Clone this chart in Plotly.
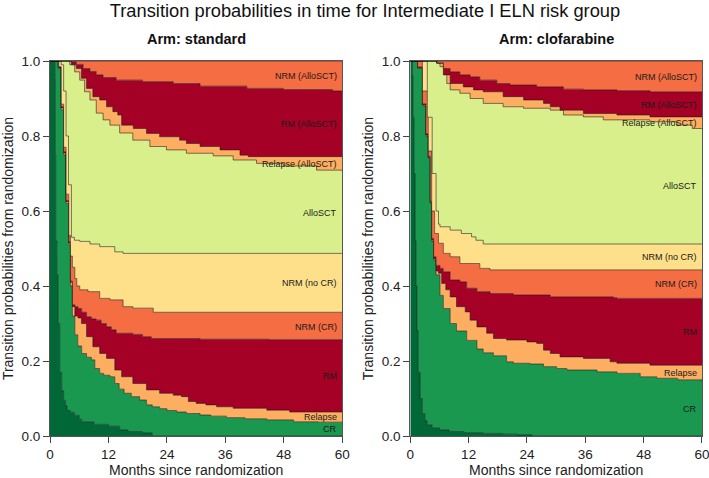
import plotly.graph_objects as go

# ---------------- data (cumulative upper boundary of each state) ----------------
states = ["Induction", "CR", "Relapse", "RM", "NRM (CR)", "NRM (no CR)",
          "AlloSCT", "Relapse (AlloSCT)", "RM (AlloSCT)", "NRM (AlloSCT)"]
colors = ["#006837", "#1a9850", "#fdae61", "#a50026", "#f46d43", "#fee08b",
          "#d9ef8b", "#fdae61", "#a50026", "#f46d43"]
x_ticks = [0, 12, 24, 36, 48, 60]
y_ticks = [0.0, 0.2, 0.4, 0.6, 0.8, 1.0]

# ---- Arm: standard ----
std_t_ind = [0, 0.9, 1.0, 1.1, 1.17, 1.4, 1.7, 2.0, 2.4, 2.8, 3.2, 3.5, 4.2, 5.0, 6.0, 6.5, 9.0, 12, 14.3, 16, 19, 21, 60]
std_p_ind = [1.0, 1.0, 0.95, 0.75, 0.52, 0.43, 0.3, 0.17, 0.12, 0.095, 0.08, 0.068, 0.063, 0.055, 0.045, 0.038, 0.031, 0.026, 0.016, 0.012, 0.008, 0.0, 0.0]

std_t_cr = [0, 1.3, 1.7, 2.3, 2.8, 3.3, 3.85, 4.2, 4.6, 5.1, 5.7, 6.5, 7.5, 8.5, 9.2, 10.2, 11.0, 12.3, 13.3, 14.2, 15.2, 16.7, 18.4, 19.8, 21, 22.5, 24, 26, 28, 30.8, 33, 36.2, 40, 44.5, 50, 55, 60]
std_p_cr = [1.0, 1.0, 0.98, 0.87, 0.75, 0.62, 0.51, 0.40, 0.32, 0.27, 0.24, 0.22, 0.21, 0.203, 0.18, 0.167, 0.162, 0.158, 0.14, 0.125, 0.114, 0.105, 0.096, 0.083, 0.078, 0.073, 0.068, 0.064, 0.06, 0.056, 0.053, 0.049, 0.046, 0.043, 0.038, 0.037, 0.036]

std_t_rel = [0, 1.3, 1.7, 2.3, 2.8, 3.3, 3.85, 4.2, 4.6, 5.1, 5.75, 6.45, 7.5, 8.8, 10.2, 11.6, 13.3, 14.7, 17, 19.8, 22.5, 25.3, 27, 28.4, 30, 32, 34.2, 37.6, 44.5, 49.2, 60]
std_p_rel = [1.0, 1.0, 0.982, 0.875, 0.755, 0.625, 0.515, 0.41, 0.345, 0.32, 0.315, 0.30, 0.265, 0.238, 0.22, 0.207, 0.176, 0.158, 0.14, 0.123, 0.114, 0.109, 0.105, 0.092, 0.087, 0.083, 0.078, 0.074, 0.069, 0.064, 0.063]

std_t_rm = [0, 1.3, 1.7, 2.3, 2.8, 3.3, 3.85, 4.2, 4.6, 5.1, 5.75, 6.5, 7.5, 8.5, 9.5, 10.5, 11.6, 12.6, 13.6, 17, 19, 20.8, 30.8, 45, 60]
std_p_rm = [1.0, 1.0, 0.984, 0.878, 0.758, 0.628, 0.518, 0.413, 0.35, 0.345, 0.34, 0.33, 0.318, 0.312, 0.309, 0.30, 0.291, 0.283, 0.274, 0.271, 0.265, 0.26, 0.258, 0.257, 0.256]

std_t_nrmcr = [0, 1.4, 1.8, 2.3, 2.8, 3.3, 3.85, 4.2, 4.6, 5.1, 5.5, 6.1, 7.8, 10.2, 12.3, 15, 17, 21.2, 60]
std_p_nrmcr = [1.0, 1.0, 0.985, 0.885, 0.77, 0.645, 0.535, 0.48, 0.45, 0.42, 0.40, 0.39, 0.385, 0.367, 0.363, 0.345, 0.341, 0.33, 0.328]

std_t_nrmno = [0, 2.0, 2.3, 2.8, 3.3, 3.8, 4.4, 5.0, 6.1, 8.2, 10.2, 13.3, 15, 60]
std_p_nrmno = [1.0, 1.0, 0.99, 0.92, 0.8, 0.67, 0.53, 0.522, 0.519, 0.512, 0.505, 0.491, 0.487, 0.487]

std_t_allo = [0, 3.6, 4.05, 5.07, 6.1, 7.1, 8.2, 9.5, 10.9, 12.3, 14.3, 17, 20.5, 23.9, 28, 33.5, 37.6, 42.4, 47.9, 54.7, 60]
std_p_allo = [1.0, 1.0, 0.99, 0.971, 0.949, 0.918, 0.896, 0.861, 0.843, 0.829, 0.808, 0.789, 0.772, 0.763, 0.754, 0.747, 0.736, 0.727, 0.72, 0.709, 0.705]

std_t_relallo = [0, 4.0, 4.4, 5.4, 6.45, 7.5, 8.8, 10.2, 11.6, 12.9, 13.9, 14.7, 17.1, 19.8, 22.5, 26.6, 28, 30.8, 34.9, 39, 40.7, 60]
std_p_relallo = [1.0, 1.0, 0.99, 0.98, 0.954, 0.927, 0.905, 0.896, 0.878, 0.865, 0.856, 0.829, 0.82, 0.807, 0.798, 0.789, 0.78, 0.772, 0.763, 0.749, 0.745, 0.745]

std_t_rmallo = [0, 4.0, 4.4, 5.4, 6.8, 8.2, 9.5, 10.9, 13.6, 19, 25.3, 30.8, 40.4, 47.9, 58, 60]
std_p_rmallo = [1.0, 1.0, 0.998, 0.991, 0.98, 0.972, 0.963, 0.956, 0.949, 0.945, 0.94, 0.933, 0.927, 0.924, 0.92, 0.92]

std_t_top = [0, 60]
std_p_top = [1.0, 1.0]

# ---- Arm: clofarabine ----
clo_t_ind = [0, 0.35, 0.45, 0.6, 0.75, 0.97, 1.2, 1.4, 1.65, 2.0, 2.5, 3.0, 3.5, 4.5, 6, 8, 11, 15, 19, 22, 25, 60]
clo_p_ind = [1.0, 1.0, 0.96, 0.85, 0.7, 0.52, 0.4, 0.28, 0.17, 0.1, 0.06, 0.04, 0.03, 0.022, 0.016, 0.012, 0.009, 0.007, 0.005, 0.003, 0.0, 0.0]

clo_t_cr = [0, 1.2, 1.5, 2.5, 3.2, 3.7, 4.1, 4.4, 4.8, 5.3, 6.1, 6.8, 8.2, 9.5, 11.6, 13.7, 15, 17.1, 19.8, 21.2, 24.6, 27.4, 30.1, 32.2, 38.4, 42.5, 47.3, 50.7, 55, 60]
clo_p_cr = [1.0, 1.0, 0.98, 0.88, 0.8, 0.74, 0.62, 0.52, 0.47, 0.43, 0.375, 0.34, 0.30, 0.28, 0.255, 0.232, 0.222, 0.214, 0.198, 0.194, 0.192, 0.185, 0.18, 0.176, 0.171, 0.167, 0.158, 0.154, 0.15, 0.145]

clo_t_rel = [0, 1.2, 1.5, 2.5, 3.2, 3.7, 4.1, 4.4, 4.8, 5.3, 5.8, 6.45, 7.3, 8.2, 9.5, 11.3, 12.3, 13.7, 15.7, 17.1, 19.8, 24, 26, 27.4, 28.8, 30.8, 35.6, 41.1, 42.5, 49.3, 60]
clo_p_rel = [1.0, 1.0, 0.982, 0.883, 0.803, 0.743, 0.623, 0.523, 0.473, 0.44, 0.434, 0.407, 0.39, 0.371, 0.345, 0.331, 0.309, 0.291, 0.274, 0.26, 0.256, 0.251, 0.247, 0.229, 0.22, 0.211, 0.207, 0.198, 0.194, 0.189, 0.189]

clo_t_rm = [0, 1.2, 1.5, 2.5, 3.2, 3.7, 4.1, 4.4, 4.8, 5.3, 6.1, 6.8, 8.2, 10.2, 11.6, 13.7, 16.4, 21.2, 28.8, 41.8, 42.5, 60]
clo_p_rm = [1.0, 1.0, 0.984, 0.886, 0.806, 0.746, 0.626, 0.527, 0.478, 0.455, 0.447, 0.438, 0.416, 0.411, 0.394, 0.385, 0.38, 0.376, 0.371, 0.369, 0.367, 0.367]

clo_t_nrmcr = [0, 1.5, 2.5, 3.7, 4.4, 5.0, 5.8, 6.8, 8.2, 10.2, 14.3, 16.4, 60]
clo_p_nrmcr = [1.0, 1.0, 0.92, 0.76, 0.6, 0.54, 0.514, 0.487, 0.478, 0.46, 0.447, 0.443, 0.443]

clo_t_nrmno = [0, 2.3, 3.5, 4.5, 5.3, 5.8, 6.1, 8.2, 10.5, 12.6, 13.5, 15, 60]
clo_p_nrmno = [1.0, 1.0, 0.85, 0.7, 0.6, 0.565, 0.558, 0.549, 0.54, 0.531, 0.522, 0.512, 0.512]

clo_t_allo = [0, 5.0, 5.5, 6.1, 7.5, 8.2, 10.2, 12.3, 15, 19.1, 23.3, 28.8, 31.5, 35.6, 39.7, 49.3, 54.8, 58, 60]
clo_p_allo = [1.0, 1.0, 0.995, 0.985, 0.94, 0.923, 0.914, 0.9, 0.887, 0.878, 0.874, 0.869, 0.856, 0.851, 0.843, 0.838, 0.829, 0.82, 0.82]

clo_t_relallo = [0, 5.0, 5.4, 6.8, 8.2, 10.9, 13, 15, 19.1, 23.3, 27.4, 28.8, 30.8, 35.6, 42.5, 49.3, 60]
clo_p_relallo = [1.0, 1.0, 0.994, 0.963, 0.94, 0.931, 0.923, 0.918, 0.905, 0.896, 0.887, 0.878, 0.869, 0.86, 0.856, 0.851, 0.85]

clo_t_rmallo = [0, 4.7, 5.5, 6.8, 8.2, 10.2, 12.3, 14.3, 17.8, 20.5, 26, 31.5, 35.6, 42.5, 49.3, 60]
clo_p_rmallo = [1.0, 1.0, 0.995, 0.98, 0.971, 0.963, 0.958, 0.949, 0.94, 0.936, 0.931, 0.925, 0.923, 0.921, 0.918, 0.917]

clo_t_top = [0, 60]
clo_p_top = [1.0, 1.0]

arms = [
    ("standard", "x", "y", [
        (std_t_ind, std_p_ind), (std_t_cr, std_p_cr), (std_t_rel, std_p_rel),
        (std_t_rm, std_p_rm), (std_t_nrmcr, std_p_nrmcr), (std_t_nrmno, std_p_nrmno),
        (std_t_allo, std_p_allo), (std_t_relallo, std_p_relallo),
        (std_t_rmallo, std_p_rmallo), (std_t_top, std_p_top)]),
    ("clofarabine", "x2", "y2", [
        (clo_t_ind, clo_p_ind), (clo_t_cr, clo_p_cr), (clo_t_rel, clo_p_rel),
        (clo_t_rm, clo_p_rm), (clo_t_nrmcr, clo_p_nrmcr), (clo_t_nrmno, clo_p_nrmno),
        (clo_t_allo, clo_p_allo), (clo_t_relallo, clo_p_relallo),
        (clo_t_rmallo, clo_p_rmallo), (clo_t_top, clo_p_top)]),
]

FONT = "Liberation Sans, Arial, Helvetica, sans-serif"
fig = go.Figure()
annotations = []

for arm_name, xa, ya, bounds in arms:
    # baseline
    fig.add_trace(go.Scatter(x=[0, 60], y=[0, 0], mode="lines", xaxis=xa, yaxis=ya,
                             line=dict(width=0, color="rgba(0,0,0,0)"), showlegend=False,
                             hoverinfo="skip"))
    for k, (tt, pp) in enumerate(bounds):
        fig.add_trace(go.Scatter(
            x=tt, y=pp, mode="lines", xaxis=xa, yaxis=ya, fill="tonexty",
            fillcolor=colors[k], line=dict(shape="hv", width=0.7, color="rgba(20,20,20,0.8)"),
            showlegend=False, name=states[k], hoverinfo="skip"))
    # state labels at the right end (middle of each band)
    for k in range(1, len(states)):
        lo = bounds[k - 1][1][-1]
        hi = bounds[k][1][-1]
        annotations.append(dict(x=60, y=(lo + hi) / 2, xref=xa, yref=ya, text=states[k],
                                showarrow=False, xanchor="right", yanchor="middle", xshift=-3,
                                font=dict(size=9, color="#1a1a1a", family=FONT)))
    annotations.append(dict(x=0.5, y=1.0587, xref=xa + " domain",
                            yref="paper", text="<b>Arm: " + arm_name + "</b>", showarrow=False,
                            xanchor="center", yanchor="middle",
                            font=dict(size=14.5, color="#111", family=FONT)))

axis_common = dict(range=[0, 60], tickvals=x_ticks, ticks="outside", ticklen=6, tickwidth=1,
                   tickcolor="#444", showline=True, linecolor="#555", linewidth=1, mirror=True,
                   showgrid=False, zeroline=False, automargin=False, ticklabeloverflow="allow",
                   tickfont=dict(size=13.5, color="#222", family=FONT),
                   title=dict(text="Months since randomization", font=dict(size=14, color="#222", family=FONT),
                              standoff=9))
yaxis_common = dict(range=[0, 1], tickvals=y_ticks, tickformat=".1f", ticks="outside", ticklen=6,
                    tickwidth=1, tickcolor="#444", showline=True, linecolor="#555", linewidth=1,
                    mirror=True, showgrid=False, zeroline=False, automargin=False,
                    ticklabeloverflow="allow",
                    tickfont=dict(size=13.5, color="#222", family=FONT),
                    title=dict(text="Transition probabilities from randomization",
                               font=dict(size=14, color="#222", family=FONT), standoff=4))

fig.update_layout(
    template="none",
    width=709, height=478,
    margin=dict(l=50, r=7, t=61, b=42, autoexpand=False),
    paper_bgcolor="white", plot_bgcolor="white",
    font=dict(family=FONT),
    title=dict(text="Transition probabilities in time for Intermediate I ELN risk group",
               x=365 / 709, xanchor="center", xref="container", y=1 - 11 / 478, yanchor="middle",
               yref="container", pad=dict(t=0, b=0, l=0, r=0),
               font=dict(size=18.3, color="#111", family=FONT)),
    xaxis=dict(domain=[0, 0.4483], anchor="y", **axis_common),
    xaxis2=dict(domain=[0.5526, 1.0], anchor="y2", **axis_common),
    yaxis=dict(domain=[0, 1], anchor="x", **yaxis_common),
    yaxis2=dict(domain=[0, 1], anchor="x2", **yaxis_common),
    annotations=annotations,
)

fig.write_html("out.html", config={"displayModeBar": False},
               post_script="document.body.style.margin='0';document.body.style.padding='0';"
                           "document.body.style.overflow='hidden';")
